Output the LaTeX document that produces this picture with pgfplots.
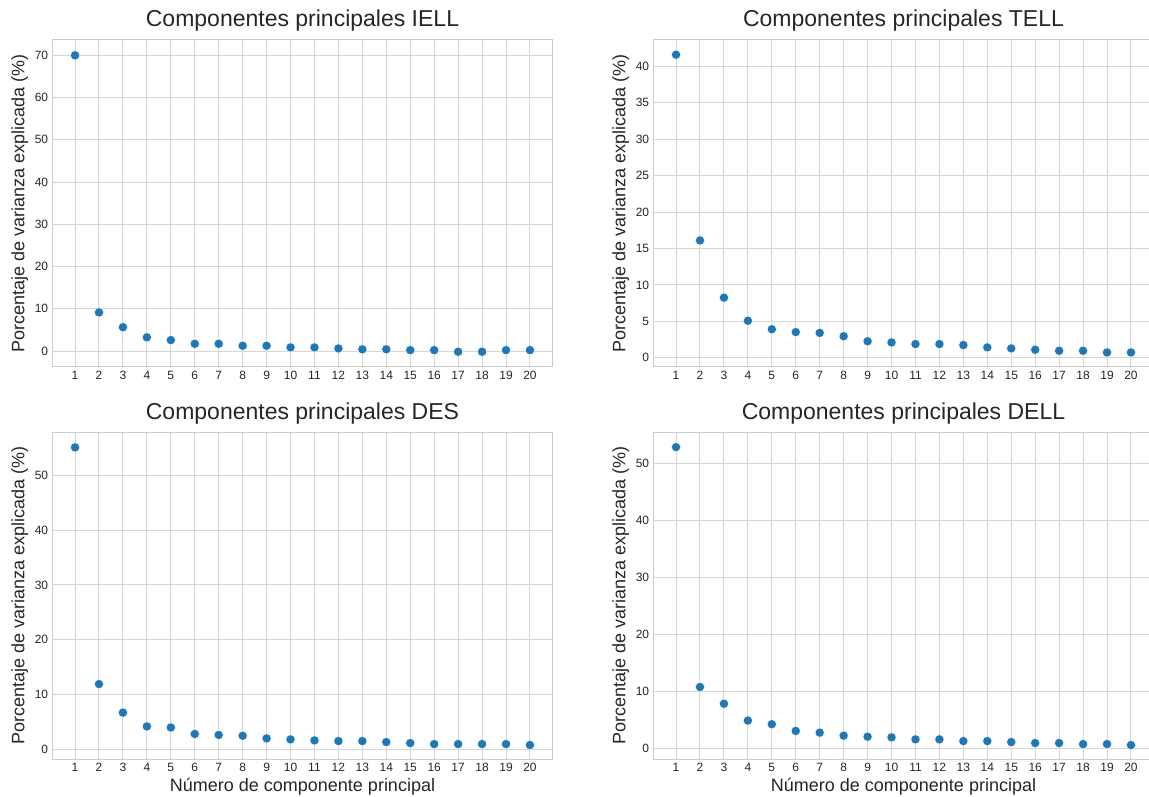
\documentclass[border=0pt]{standalone}
\usepackage{pgfplots}
\pgfplotsset{compat=1.18}
\usepackage{pgfplotstable}
\usepackage{fontspec}
\setmainfont{Liberation Sans}

\definecolor{pcblue}{RGB}{31,119,180}
\definecolor{gridgray}{RGB}{214,214,214}
\definecolor{framegray}{RGB}{204,204,204}
\definecolor{textgray}{RGB}{38,38,38}

% Explained variance (%) per principal component
\pgfplotstableread{
k  iell   tell   des    dell
1  70.0   41.6   55.1   52.9
2  9.14   16.1   11.9   10.8
3  5.65   8.25   6.7    7.86
4  3.25   5.08   4.18   4.9
5  2.6    3.91   3.99   4.26
6  1.72   3.52   2.8    3.08
7  1.72   3.41   2.62   2.78
8  1.26   2.95   2.48   2.25
9  1.26   2.26   1.99   2.07
10 0.87   2.1    1.81   1.95
11 0.87   1.88   1.63   1.6
12 0.62   1.88   1.51   1.6
13 0.42   1.74   1.51   1.3
14 0.42   1.42   1.33   1.3
15 0.22   1.28   1.14   1.12
16 0.22   1.1    0.96   0.95
17 -0.15  0.96   0.96   0.95
18 -0.15  0.96   0.96   0.77
19 0.22   0.73   0.96   0.77
20 0.22   0.73   0.78   0.6
}\pcvar

\pgfplotsset{
  pcpanel/.style={
    scale only axis,
    width=500.4pt, height=327pt,
    anchor=south west,
    xmin=0.05, xmax=20.95,
    xtick={1,...,20},
    major tick length=0pt,
    grid=major,
    major grid style={color=gridgray, line width=1pt},
    axis line style={color=framegray, line width=1.25pt},
    /pgf/number format/assume math mode=true,
    tick label style={font=\fontsize{12}{14}\selectfont, text=textgray, inner sep=0pt},
    xticklabel style={anchor=base, yshift=-12.4pt},
    yticklabel style={anchor=east, xshift=-4pt},
    title style={at={(axis description cs:0.5,1)}, anchor=base, yshift=7pt,
                 font=\fontsize{23}{26}\selectfont, text=textgray},
    ylabel style={at={(axis description cs:-0.0556,0.5)}, anchor=base,
                  font=\fontsize{18}{21}\selectfont, text=textgray},
    xlabel style={at={(axis description cs:0.5,0)}, anchor=base, yshift=-32.4pt,
                  font=\fontsize{18}{21}\selectfont, text=textgray},
    ylabel={Porcentaje de varianza explicada (\%)},
  },
  pcmarks/.style={only marks, mark=*, mark size=4.6pt,
    mark options={fill=pcblue, draw=white, line width=0.4pt}},
}

\begin{document}
\begin{tikzpicture}[x=1pt,y=1pt]

\begin{axis}[pcpanel, at={(52.3pt,429.3pt)},
  title={Componentes principales IELL},
  ymin=-3.7, ymax=73.7, ytick={0,10,...,70}]
  \addplot[pcmarks] table[x=k, y=iell] {\pcvar};
\end{axis}

\begin{axis}[pcpanel, at={(653.3pt,429.3pt)},
  title={Componentes principales TELL},
  ymin=-1.23, ymax=43.66, ytick={0,5,...,40}]
  \addplot[pcmarks] table[x=k, y=tell] {\pcvar};
\end{axis}

\begin{axis}[pcpanel, at={(52.3pt,36.7pt)},
  title={Componentes principales DES},
  xlabel={Número de componente principal},
  ymin=-1.82, ymax=57.85, ytick={0,10,...,50}]
  \addplot[pcmarks] table[x=k, y=des] {\pcvar};
\end{axis}

\begin{axis}[pcpanel, at={(653.3pt,36.7pt)},
  title={Componentes principales DELL},
  xlabel={Número de componente principal},
  ymin=-1.9, ymax=55.5, ytick={0,10,...,50}]
  \addplot[pcmarks] table[x=k, y=dell] {\pcvar};
\end{axis}

\pgfresetboundingbox
\path[use as bounding box] (0,0) rectangle (1149,796);
\end{tikzpicture}
\end{document}
